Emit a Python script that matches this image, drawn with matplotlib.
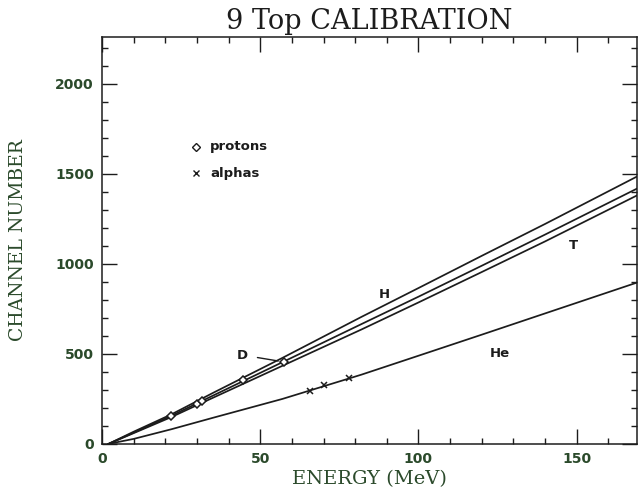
#!/usr/bin/env python3
import matplotlib
matplotlib.use("Agg")
import matplotlib.pyplot as plt
from matplotlib.ticker import MultipleLocator

# calibration curves (energy in MeV -> channel)
energy = [2, 10, 22, 35, 57, 82, 100, 120, 140, 169]
ch_H = [0, 68, 165, 283, 478, 706, 866, 1045, 1222, 1485]
ch_D = [0, 63, 157, 268, 454, 666, 818, 990, 1163, 1418]
ch_T = [0, 60, 150, 256, 434, 636, 786, 955, 1125, 1380]
ch_He = [0, 28, 82, 145, 250, 385, 490, 607, 725, 896]

# measured points
proton_e = [21.8, 30.1, 31.7, 44.6, 57.4]
proton_ch = [157, 222, 240, 356, 457]
alpha_e = [65.7, 70.3, 78.2]
alpha_ch = [292, 325, 368]

ink = "#1c1c1c"
green = "#2b4a2b"

fig = plt.figure(figsize=(6.38, 4.96), dpi=100)
ax = fig.add_axes([0.16, 0.105, 0.838, 0.82])

for ch in (ch_H, ch_D, ch_T, ch_He):
    ax.plot(energy, ch, color=ink, lw=1.25)

ax.plot(proton_e, proton_ch, ls="none", marker="D", ms=4.5, mfc="white",
        mec=ink, mew=1.1)
ax.plot(alpha_e, alpha_ch, ls="none", marker="x", ms=5, mec=ink, mew=1.1)

# curve labels
lab = dict(color=ink, fontsize=9.5, fontweight="bold", family="DejaVu Sans",
           ha="center", va="center")
ax.text(89.3, 828, "H", **lab)
ax.text(149, 1100, "T", **lab)
ax.text(125.6, 500, "He", **lab)
ax.annotate("D", xy=(57.0, 457), xytext=(44.3, 494), ha="center", va="center",
            color=ink, fontsize=9.5, fontweight="bold", family="DejaVu Sans",
            arrowprops=dict(arrowstyle="-", color=ink, lw=1.0,
                            shrinkA=5, shrinkB=3))

# legend drawn by hand
ax.plot([29.7], [1650], ls="none", marker="D", ms=4, mfc="white", mec=ink, mew=1.0)
ax.plot([29.7], [1505], ls="none", marker="x", ms=4.5, mec=ink, mew=1.0)
ax.text(34.2, 1650, "protons", color=ink, fontsize=9.5, fontweight="bold",
        va="center", ha="left")
ax.text(34.2, 1505, "alphas", color=ink, fontsize=9.5, fontweight="bold",
        va="center", ha="left")

ax.set_xlim(0, 169)
ax.set_ylim(0, 2260)
ax.xaxis.set_major_locator(MultipleLocator(50))
ax.xaxis.set_minor_locator(MultipleLocator(10))
ax.yaxis.set_major_locator(MultipleLocator(500))
ax.yaxis.set_minor_locator(MultipleLocator(100))
ax.tick_params(which="both", direction="in", top=True, right=True,
               color=ink, width=1.0)
ax.tick_params(which="major", length=11, labelsize=10, labelcolor=green, pad=6)
ax.tick_params(which="minor", length=4.5)
for t in ax.get_xticklabels() + ax.get_yticklabels():
    t.set_fontweight("bold")
for s in ax.spines.values():
    s.set_color(ink)
    s.set_linewidth(1.1)

ax.set_xlabel("ENERGY (MeV)", family="DejaVu Serif", fontsize=14,
              color=green, labelpad=3)
ax.set_ylabel("CHANNEL NUMBER", family="DejaVu Serif", fontsize=13.5,
              color=green, labelpad=20)
ax.set_title("9 Top CALIBRATION", family="DejaVu Serif", fontsize=19.5,
             color=ink, pad=6)

fig.savefig("out.png", dpi=100)
